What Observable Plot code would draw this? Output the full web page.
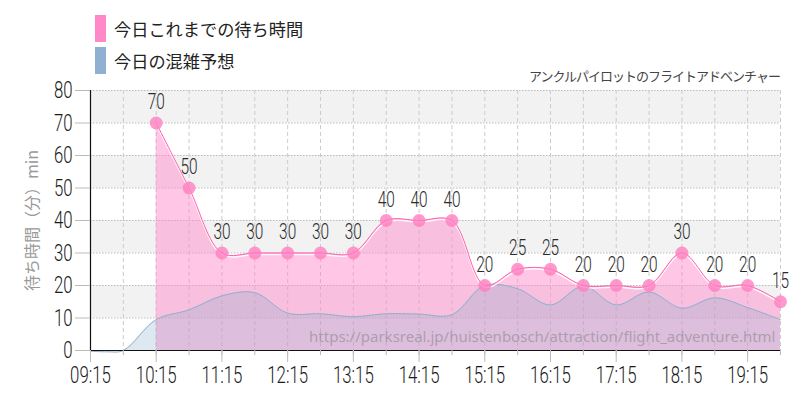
<!DOCTYPE html>
<html><head><meta charset="utf-8">
<script src="https://cdn.jsdelivr.net/npm/d3@7"></script>
<script src="https://cdn.jsdelivr.net/npm/@observablehq/plot@0.6"></script>
<style>
body{margin:0;background:#fff;width:800px;height:400px;overflow:hidden;font-family:"Noto Sans CJK JP",sans-serif;position:relative;}
#head{position:absolute;left:0;top:0;width:800px;height:90px;z-index:2;pointer-events:none;}
#chart{position:absolute;left:0;top:0;}
.item{position:absolute;left:95px;height:27px;display:flex;align-items:center;font-size:17.2px;color:#222;white-space:nowrap;}
.sw{width:11px;height:27px;margin-right:8px;}
#title{position:absolute;right:20px;top:66px;font-size:13px;letter-spacing:-1px;color:#444;white-space:nowrap;}
</style></head>
<body>
<div id="chart"></div>
<div id="head">
 <div class="item" style="top:15px"><div class="sw" style="background:#ff88c8"></div><span id="l1"></span></div>
 <div class="item" style="top:47px"><div class="sw" style="background:#8fb0d0"></div><span id="l2"></span></div>
 <div id="title"></div>
</div>
<script>
// ---- data ----
const chartTitle = "アンクルパイロットのフライトアドベンチャー";
const seriesNames = ["今日これまでの待ち時間", "今日の混雑予想"];
const yLabel = "待ち時間（分）min";
const sourceUrl = "https://parksreal.jp/huistenbosch/attraction/flight_adventure.html";

const waitTimes = ["10:15","10:45","11:15","11:45","12:15","12:45","13:15","13:45","14:15","14:45","15:15","15:45","16:15","16:45","17:15","17:45","18:15","18:45","19:15","19:45"];
const waitValues = [70,50,30,30,30,30,30,40,40,40,20,25,25,20,20,20,30,20,20,15];

const forecastTimes = ["09:15","09:30","09:45","10:15","10:45","11:15","11:45","12:15","12:45","13:15","13:45","14:15","14:45","15:15","15:45","16:15","16:45","17:15","17:45","18:15","18:45","19:15","19:45"];
const forecastValues = [-0.2,-0.4,0,9.5,12.5,16.8,17.8,11.5,11.3,10.4,11.3,11.2,11,20,19,14,19.8,14,18,13,16.2,13.2,9.5];

const xTickLabels = ["09:15","10:15","11:15","12:15","13:15","14:15","15:15","16:15","17:15","18:15","19:15"];
const xDomainLabels = ["09:15","19:45"];
const yTicks = [0,10,20,30,40,50,60,70,80];
const bandRanges = [[70,80],[50,60],[30,40],[10,20]];

document.getElementById("l1").textContent = seriesNames[0];
document.getElementById("l2").textContent = seriesNames[1];
document.getElementById("title").textContent = chartTitle;

const toMin = s => { const [h, m] = s.split(":").map(Number); return h * 60 + m; };
const wait = waitTimes.map((t, i) => ({t: toMin(t), v: waitValues[i]}));
const forecast = forecastTimes.map((t, i) => ({t: toMin(t), v: forecastValues[i]}));
const x0 = toMin(xDomainLabels[0]), x1 = toMin(xDomainLabels[1]);
const hourTicks = xTickLabels.map(toMin);
const halfTicks = d3.range(x0 + 30, x1 + 1, 30);
const bands = bandRanges.map(([a, b]) => ({a, b}));
const cond = 'Roboto,"Liberation Sans",sans-serif';

const chart = Plot.plot({
  width: 800, height: 400,
  marginLeft: 90, marginRight: 20, marginTop: 90, marginBottom: 50,
  style: {fontFamily: cond, background: "transparent"},
  x: {type: "linear", domain: [x0, x1], axis: null},
  y: {domain: [0, 80], axis: null},
  marks: [
    Plot.rect(bands, {x1: () => x0, x2: () => x1, y1: "a", y2: "b", fill: "#f2f2f2"}),
    Plot.ruleY(yTicks, {stroke: "#bbb", strokeDasharray: "1.5,1.5"}),
    Plot.ruleX(halfTicks, {stroke: "#ccc", strokeDasharray: "4,3"}),
    Plot.areaY(wait, {x: "t", y: "v", fill: "#ff88c8", fillOpacity: 0.47, curve: "catmull-rom"}),
    Plot.areaY(forecast, {x: "t", y: "v", fill: "#86acc9", fillOpacity: 0.28, curve: "catmull-rom"}),
    Plot.lineY(forecast, {x: "t", y: "v", stroke: "#8fb0d0", strokeWidth: 1, curve: "catmull-rom"}),
    Plot.lineY(wait, {x: "t", y: "v", stroke: "white", strokeWidth: 1.5, dy: 1.5, strokeOpacity: 0.9, curve: "catmull-rom"}),
    Plot.lineY(wait, {x: "t", y: "v", stroke: "#ff5fae", strokeWidth: 1, curve: "catmull-rom"}),
    Plot.text([sourceUrl], {frameAnchor: "bottom-right", dx: -5, dy: -9, fontSize: 15, fontFamily: '"Noto Sans",sans-serif', fill: "#888", fillOpacity: 0.6, textAnchor: "end"}),
    Plot.dot(wait, {x: "t", y: "v", r: 6.5, fill: "#ff7fc0", fillOpacity: 0.8, stroke: null}),
    Plot.text(wait, {x: "t", y: "v", text: d => String(d.v), dy: -21, fontSize: 22, fill: "#2a2a2a"}),
    Plot.ruleY([0], {stroke: "#111", strokeWidth: 1.2}),
    Plot.ruleX([x0], {stroke: "#111", strokeWidth: 1.2}),
    Plot.axisY({ticks: yTicks, tickSize: 15, tickPadding: 3, stroke: "#bbb", fill: "#1a1a1a", fontSize: 24, label: null}),
    Plot.axisX({ticks: halfTicks, tickSize: 5, tickFormat: () => "", stroke: "#bbb", label: null}),
    Plot.axisX({ticks: hourTicks, tickSize: 12, tickPadding: 3, tickFormat: (d, i) => xTickLabels[i], stroke: "#bbb", fill: "#1a1a1a", fontSize: 24, label: null}),
    Plot.text([yLabel], {frameAnchor: "left", dx: -58, rotate: -90, textAnchor: "middle", fill: "#999", fontSize: 16, fontFamily: '"Noto Sans CJK JP",sans-serif'})
  ]
});
document.getElementById("chart").appendChild(chart);

// condense the numeric labels to mimic the reference's narrow typeface
chart.querySelectorAll("text").forEach(t => {
  const fs = getComputedStyle(t).fontSize;
  if (fs === "24px" || fs === "22px") {
    t.style.fontWeight = "300";
    const len = t.getComputedTextLength();
    t.setAttribute("textLength", (len * 0.7).toFixed(1));
    t.setAttribute("lengthAdjust", "spacingAndGlyphs");
  }
});
</script>
</body></html>
